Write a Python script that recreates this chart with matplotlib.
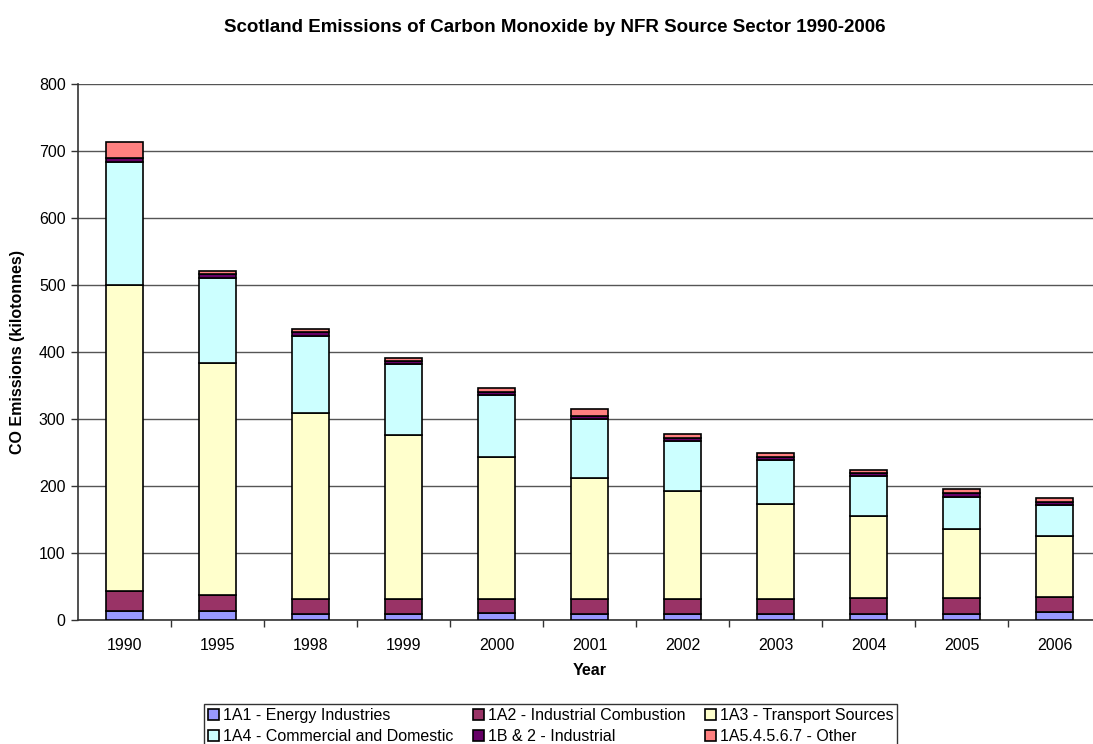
import numpy as np
import matplotlib
matplotlib.use('Agg')
import matplotlib.pyplot as plt

plt.rcParams['font.family'] = ['Liberation Sans', 'DejaVu Sans']

years = ['1990', '1995', '1998', '1999', '2000', '2001', '2002', '2003', '2004', '2005', '2006']

# kilotonnes of CO per NFR sector
energy = [14, 14, 8.5, 8.5, 10, 9.5, 8.5, 8.5, 9.5, 9, 11.5]
ind_comb = [30, 24, 23, 23, 22, 22, 23, 23, 24, 24, 22.5]
transport = [456, 346, 278, 245, 211, 181, 161, 142, 122, 103, 92]
commercial = [184, 127, 115, 105, 93, 87, 74, 65, 59, 48, 45]
industrial = [5, 6, 5, 5, 5, 5, 5, 5, 5, 5, 5]
other = [25, 4, 5, 5, 5, 10, 6, 6, 5, 6, 5.5]

labels = ['1A1 - Energy Industries', '1A2 - Industrial Combustion', '1A3 - Transport Sources',
          '1A4 - Commercial and Domestic', '1B & 2 - Industrial', '1A5.4.5.6.7 - Other']
colors = ['#9999FF', '#993366', '#FFFFCC', '#CCFFFF', '#660066', '#FF8080']

series = [energy, ind_comb, transport, commercial, industrial, other]

fs = 11.5

fig = plt.figure(figsize=(10.93, 7.44), dpi=100)
ax = fig.add_axes([78/1093, 1-620/744, 1023/1093, 536/744])

x = np.arange(len(years))
bottom = np.zeros(len(years))
handles = []
for vals, lab, col in zip(series, labels, colors):
    b = ax.bar(x, vals, width=0.4, bottom=bottom, color=col, edgecolor='black',
               linewidth=1.2, label=lab, zorder=3)
    handles.append(b)
    bottom += np.array(vals)

ax.set_xlim(-0.5, len(years) - 0.5)
ax.set_ylim(0, 800)
ax.set_yticks(np.arange(0, 801, 100))
ax.yaxis.grid(True, color='#555555', linewidth=1, zorder=0)
ax.set_axisbelow(True)

ax.set_xticks(x)
ax.set_xticklabels(years, fontsize=fs)
ax.set_xticks(np.arange(0.5, len(years) - 0.5, 1), minor=True)
ax.tick_params(axis='x', which='major', length=0, pad=13)
ax.tick_params(axis='x', which='minor', length=5, width=1, color='#333333', direction='out')
ax.tick_params(axis='y', length=5, width=1, color='#333333', labelsize=fs, pad=4)

for s in ['top', 'right']:
    ax.spines[s].set_visible(False)
for s in ['left', 'bottom']:
    ax.spines[s].set_color('#333333')
    ax.spines[s].set_linewidth(1.2)

ax.set_xlabel('Year', fontsize=fs, fontweight='bold', labelpad=7)
ax.set_ylabel('CO Emissions (kilotonnes)', fontsize=fs, fontweight='bold', labelpad=10)

fig.text(0.508, 1-27/744, 'Scotland Emissions of Carbon Monoxide by NFR Source Sector 1990-2006',
         ha='center', va='center', fontsize=13.5, fontweight='bold')

# legend rows run across, so feed the handles column by column
order = [0, 3, 1, 4, 2, 5]
leg = fig.legend([handles[i] for i in order], [labels[i] for i in order],
                 ncol=3, loc='upper left', bbox_to_anchor=(196/1093, 1-696/744),
                 fontsize=fs, frameon=True, fancybox=False, edgecolor='black',
                 handlelength=0.7, handleheight=0.7, handletextpad=0.25,
                 columnspacing=1.2, labelspacing=0.4, borderpad=0.25)
leg.get_frame().set_linewidth(1)

fig.savefig('out.png', dpi=100)
